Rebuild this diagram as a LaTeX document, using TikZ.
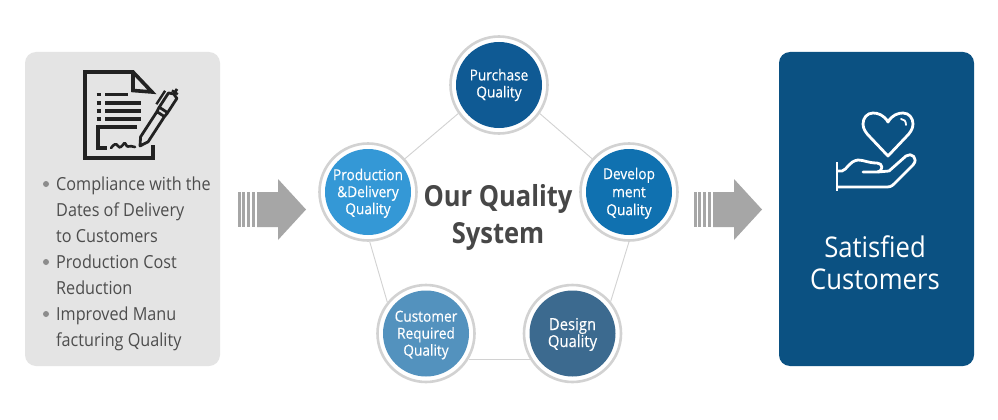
\documentclass[tikz,border=0pt]{standalone}
\usepackage{fontspec}
\setmainfont[FakeStretch=0.9]{Open Sans}
\newfontfamily\ctrfont[FakeStretch=0.88]{Open Sans}
\newfontfamily\circfont[FakeStretch=0.9,FakeBold=0.25]{Open Sans}
\usetikzlibrary{calc}
\definecolor{leftbox}{HTML}{E4E4E4}
\definecolor{navy}{HTML}{0B5182}
\definecolor{ringc}{HTML}{D2D2D2}
\definecolor{arrowc}{HTML}{A6A6A6}
\definecolor{txt}{HTML}{4D4D4D}
\definecolor{iconc}{HTML}{222222}
\definecolor{cpur}{HTML}{0F5A94}
\definecolor{cdev}{HTML}{1071B0}
\definecolor{cdes}{HTML}{3C6A8F}
\definecolor{ccus}{HTML}{5392BE}
\definecolor{cpro}{HTML}{3498D6}
\newcommand{\topfix}{\rule{0pt}{14pt}}
\tikzset{
  x=1pt,y=-1pt,
  qual/.style={circle,draw=ringc,line width=2.6pt,minimum size=97pt,inner sep=0pt,
     path picture={\fill[#1] (path picture bounding box.center) circle (43pt);},
     text=white,align=center,font=\fontsize{15.2}{17}\circfont},
  link/.style={draw=ringc,line width=0.9pt},
  listline/.style={anchor=base west,text=txt,inner sep=0pt,font=\fontsize{18}{20}\selectfont},
  bulletdot/.style={circle,fill=gray!90,inner sep=0pt,minimum size=6pt},
  doc/.style={draw=iconc,line width=3.6pt,line join=miter},
  handl/.style={draw=white,line width=2.8pt,line cap=round,line join=round},
}
\begin{document}
\begin{tikzpicture}
\useasboundingbox (0,0) rectangle (998,420);
\fill[white] (0,0) rectangle (998,420);
% panels
\fill[leftbox,rounded corners=11pt] (25,52) rectangle (220,366);
\fill[navy,rounded corners=11pt] (779,52) rectangle (974,366);
% document icon
\draw[doc] (153,145) -- (153,158) -- (85,158) -- (85,72) -- (133,72) -- (152,92) -- (133,90.5) -- (133,72);
\foreach \yy/\xe in {94.5/128,103/141,111/141,119/141}{
  \draw[iconc,line width=3.2pt] (105,\yy) -- (\xe,\yy);
  \draw[iconc,line width=3.2pt] (96.5,\yy) -- (101,\yy);
}
\draw[doc] (137,127) -- (98,127) -- (98,148) -- (107,148);
\draw[iconc,line width=2.6pt,line cap=round] (111,148) .. controls (114,144) and (116,143) .. (118,146) .. controls (120,149) and (122,146) .. (124,143.5) .. controls (126,142) and (126,147) .. (128,146.5) .. controls (130,145) and (132,147) .. (135,147);
% pen
\begin{scope}[shift={(140,146)},rotate=57]
 \draw[iconc,line width=2.8pt,line join=round] (0,0) -- (8,-4.5) -- (38,-4.5) -- (38,4.5) -- (8,4.5) -- cycle;
 \draw[iconc,line width=2.8pt,line join=round] (38,-4.5) -- (42,-5) -- (60,-5) -- (62,0) -- (60,5) -- (42,5) -- (38,4.5);
 \draw[iconc,line width=2.8pt] (43,-5) -- (43,5);
 \draw[iconc,line width=2.8pt] (62,0) -- (68,0);
 \draw[iconc,line width=2.4pt] (64,-3.5) -- (64,3.5);
 \draw[iconc,line width=2.4pt] (44,-9) -- (60,-9);
\end{scope}
% list
\foreach \yy in {184,262,314} \node[bulletdot] (b\yy) at (46,\yy) {};
\node[listline] (l1) at (56,190) {Compliance with the};
\node[listline] (l2) at (56,216) {Dates of Delivery};
\node[listline] (l3) at (56,242) {to Customers};
\node[listline] (l4) at (56,268) {Production Cost};
\node[listline] (l5) at (56,294) {Reduction};
\node[listline] (l6) at (56,320) {Improved Manu};
\node[listline] (l7) at (56,346) {facturing Quality};
% arrows
\foreach \dx in {0,456}{
\begin{scope}[shift={(\dx,0)}]
 \fill[arrowc] (238,192) rectangle (240.5,227);
 \fill[arrowc] (242,192) rectangle (245,227);
 \fill[arrowc] (246.5,192) rectangle (250,227);
 \fill[arrowc] (252,192) rectangle (255,227);
 \fill[arrowc] (257,192) -- (278,192) -- (278,179) -- (306,209.5) -- (278,240) -- (278,227) -- (257,227) -- cycle;
\end{scope}}
% circles
\node[qual=cpur] (pur) at (499,85) {Purchase\\Quality};
\node[qual=cdev] (dev) at (629,192) {\topfix Develop\\[1pt]ment\\[1pt]Quality};
\node[qual=cdes] (des) at (572.5,333.5) {\topfix\fontsize{16.5}{18}\selectfont Design\\\fontsize{16.5}{18}\selectfont Quality};
\node[qual=ccus] (cus) at (426,333.5) {\topfix Customer\\Required\\Quality};
\node[qual=cpro] (pro) at (368,192) {\topfix Production\\\&Delivery\\Quality};
% links
\draw[link] (pur.215) -- (pro.42);
\draw[link] (pur.-35) -- (dev.138);
\draw[link] (pro.-88) -- (cus.141);
\draw[link] (dev.-90) -- (des.40);
\draw[link] (cus.-31) -- (des.211);
% centre
\node[text=black!72,align=center,font=\fontsize{29}{37}\ctrfont\bfseries] (ctr) at (498,217) {Our Quality\\System};
% hand icon
\draw[handl] (888,122) .. controls (884,115) and (878,113) .. (873,113) .. controls (867,113) and (863,118) .. (863,124) .. controls (863,129) and (866,133) .. (870,137) -- (888,156) -- (906,137) .. controls (910,133) and (913,129) .. (913,124) .. controls (913,118) and (909,113) .. (903,113) .. controls (898,113) and (892,115) .. (888,122) -- cycle;
\draw[draw=white,line width=1.8pt,line cap=round] (901,119) .. controls (904,119) and (906,121) .. (906,125);
\draw[draw=white,line width=2.8pt] (837,162) -- (837,191);
\draw[handl] (838,171) -- (842,171) .. controls (847,170) and (849,161) .. (858,160) .. controls (864,160) and (868,163) .. (877,163) .. controls (883,163) and (884,171) .. (877,172) -- (863,172);
\draw[handl] (878,172) -- (889,171) -- (906,156) .. controls (911,152) and (919,158) .. (913,165) -- (894,184) .. controls (891,187) and (889,187) .. (885,187) -- (838,187);
\node[text=white,align=center,font=\fontsize{28.5}{32}\selectfont] (sat) at (875,262.5) {Satisfied\\Customers};
\end{tikzpicture}
\end{document}
